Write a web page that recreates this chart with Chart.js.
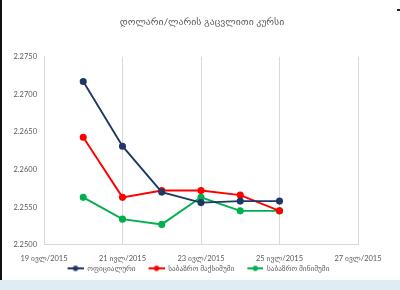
<!DOCTYPE html>
<html>
<head>
<meta charset="utf-8">
<script src="https://cdn.jsdelivr.net/npm/chart.js@4"></script>
<style>
  html, body { margin: 0; padding: 0; background: #fff; }
  body { width: 400px; height: 290px; position: relative; overflow: hidden; }
  #wrap { position: absolute; left: 0; top: 0; width: 400px; height: 280px; }
  #leftEdge { position: absolute; left: 0; top: 0; width: 2px; height: 280px; background: #111; }
  #band { position: absolute; left: 0; top: 280px; width: 400px; height: 10px; background: #deedf3; }
  #mark { position: absolute; left: 397px; top: 9px; width: 3px; height: 2px; background: #222; }
</style>
</head>
<body>
<div id="wrap"><canvas id="rate-chart" width="400" height="280"></canvas></div>
<div id="leftEdge"></div>
<div id="band"></div>
<div id="mark"></div>
<script>
// day of month (July 2015) for each observation
const days = [20, 21, 22, 23, 24, 25];
const officialRate = [2.2717, 2.2631, 2.2570, 2.2556, 2.2558, 2.2558];
const marketMax = [2.2643, 2.2563, 2.2572, 2.2572, 2.2566, 2.2545];
const marketMin = [2.2563, 2.2534, 2.2527, 2.2563, 2.2545, 2.2545];
const seriesNames = ['ოფიციალური', 'საბაზრო მაქსიმუმი', 'საბაზრო მინიმუმი'];
const monthLabel = 'ივლ/2015';

const FONT = "'Lato', 'DejaVu Sans', sans-serif";
const colors = ['#1f3864', '#ff0000', '#00b050'];

function toPoints(values) {
    return days.map(function(d, i) { return { x: d, y: values[i] }; });
}

// line-with-dot marker for the legend (left part transparent = gap between items)
function legendMarker(color) {
    const c = document.createElement('canvas');
    c.width = 27;
    c.height = 8;
    const g = c.getContext('2d');
    g.strokeStyle = color;
    g.lineWidth = 2;
    g.beginPath();
    g.moveTo(11, 4);
    g.lineTo(27, 4);
    g.stroke();
    g.fillStyle = color;
    g.beginPath();
    g.arc(19, 4, 2.7, 0, Math.PI * 2);
    g.fill();
    return c;
}

// the right padding pushes title/legend off-centre, move them back;
// legend also pulled up closer to the axis labels
const recentre = {
    id: 'recentre',
    afterLayout: function(chart) {
        if (chart.titleBlock) {
            chart.titleBlock.left += 23;
            chart.titleBlock.right += 23;
        }
        if (chart.legend) {
            chart.legend.left += 14;
            chart.legend.right += 14;
            chart.legend.top -= 9;
            chart.legend.bottom -= 9;
        }
    }
};

const allSeries = [officialRate, marketMax, marketMin];

new Chart(document.getElementById('rate-chart'), {
    type: 'line',
    data: {
        datasets: allSeries.map(function(values, i) {
            return {
                label: seriesNames[i],
                data: toPoints(values),
                borderColor: colors[i],
                backgroundColor: colors[i],
                borderWidth: 1.9,
                pointRadius: 2.6,
                pointHoverRadius: 3,
                tension: 0
            };
        })
    },
    options: {
        responsive: false,
        animation: false,
        layout: { padding: { left: 0, right: 42, top: 0, bottom: -11 } },
        plugins: {
            title: {
                display: true,
                text: 'დოლარი/ლარის გაცვლითი კურსი',
                color: '#595959',
                font: { family: FONT, size: 9.8, weight: 'normal' },
                padding: { top: 16, bottom: 29 }
            },
            legend: {
                position: 'bottom',
                labels: {
                    usePointStyle: true,
                    pointStyleWidth: 27,
                    color: '#595959',
                    font: { family: FONT, size: 7.3 },
                    padding: 2,
                    generateLabels: function(chart) {
                        return chart.data.datasets.map(function(ds, i) {
                            return {
                                text: ds.label,
                                pointStyle: legendMarker(colors[i]),
                                fillStyle: colors[i],
                                strokeStyle: colors[i],
                                lineWidth: 0,
                                fontColor: '#595959',
                                datasetIndex: i
                            };
                        });
                    }
                }
            },
            tooltip: { enabled: false }
        },
        scales: {
            x: {
                type: 'linear',
                min: 19,
                max: 27,
                ticks: {
                    stepSize: 2,
                    color: '#595959',
                    font: { family: FONT, size: 7.5 },
                    padding: 9,
                    maxRotation: 0,
                    callback: function(v) { return v + ' ' + monthLabel; }
                },
                grid: { color: '#d9d9d9', drawTicks: false },
                border: { color: '#d9d9d9' }
            },
            y: {
                min: 2.25,
                max: 2.275,
                afterFit: function(scale) { scale.width = 44; },
                ticks: {
                    stepSize: 0.005,
                    color: '#595959',
                    font: { family: FONT, size: 7.5 },
                    padding: 7,
                    callback: function(v) { return v.toFixed(4); }
                },
                grid: { display: false, drawTicks: false },
                border: { color: '#d9d9d9' }
            }
        }
    },
    plugins: [recentre]
});
</script>
</body>
</html>
